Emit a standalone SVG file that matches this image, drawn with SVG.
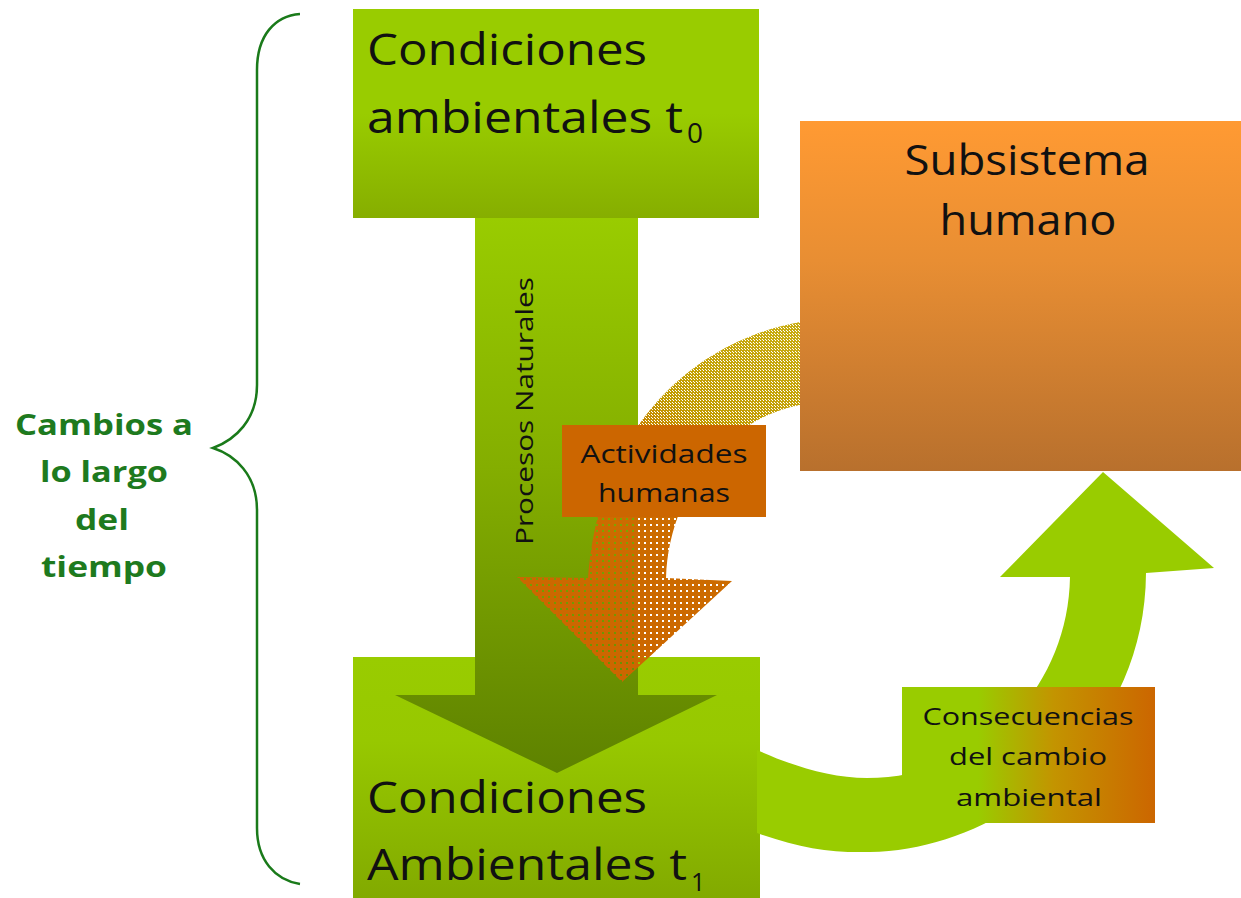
<svg xmlns="http://www.w3.org/2000/svg" width="1241" height="898" viewBox="0 0 1241 898">
<style>
  .t { font-family: "Open Sans", "Liberation Sans", sans-serif; fill: #111; }
  .big { font-size: 44px; }
  .mid { font-size: 25px; }
  .lbl { font-family: "Open Sans", "Liberation Sans", sans-serif; font-weight: bold; font-size: 28px; fill: #1E7A1E; }
</style>
<defs>
  <linearGradient id="gTop" x1="0" y1="0" x2="0" y2="1">
    <stop offset="0" stop-color="#99CC00"/>
    <stop offset="0.5" stop-color="#99CC00"/>
    <stop offset="1" stop-color="#86AE00"/>
  </linearGradient>
  <linearGradient id="gBot" x1="0" y1="0" x2="0" y2="1">
    <stop offset="0" stop-color="#99CC00"/>
    <stop offset="0.35" stop-color="#97C800"/>
    <stop offset="1" stop-color="#82AA00"/>
  </linearGradient>
  <linearGradient id="gArrow" gradientUnits="userSpaceOnUse" x1="0" y1="218" x2="0" y2="772">
    <stop offset="0" stop-color="#99CC00"/>
    <stop offset="0.45" stop-color="#84AE00"/>
    <stop offset="1" stop-color="#5E8200"/>
  </linearGradient>
  <linearGradient id="gHum" x1="0" y1="0" x2="0" y2="1">
    <stop offset="0" stop-color="#FF9A33"/>
    <stop offset="0.4" stop-color="#E88E33"/>
    <stop offset="1" stop-color="#B8702D"/>
  </linearGradient>
  <linearGradient id="gCons" x1="0" y1="0" x2="1" y2="0">
    <stop offset="0" stop-color="#99CC00"/>
    <stop offset="0.3" stop-color="#99CC00"/>
    <stop offset="0.6" stop-color="#C39400"/>
    <stop offset="1" stop-color="#CC6600"/>
  </linearGradient>
  <linearGradient id="gDot" gradientUnits="userSpaceOnUse" x1="790" y1="330" x2="620" y2="680">
    <stop offset="0" stop-color="#C8AC10"/>
    <stop offset="0.3" stop-color="#C29C00"/>
    <stop offset="0.48" stop-color="#CC6E00"/>
    <stop offset="1" stop-color="#CC6600"/>
  </linearGradient>
  <pattern id="pSmall" patternUnits="userSpaceOnUse" width="6" height="6">
    <rect width="6" height="6" fill="#fff"/>
    <rect x="2" y="2" width="2" height="2" fill="#000"/>
  </pattern>
  <pattern id="pDense" patternUnits="userSpaceOnUse" width="3" height="3">
    <rect width="3" height="3" fill="#fff"/>
    <rect x="0" y="0" width="1" height="1" fill="#000"/>
    <rect x="1" y="1" width="1" height="1" fill="#000"/>
  </pattern>
  <mask id="dotMask" maskUnits="userSpaceOnUse" x="0" y="0" width="1241" height="898">
    <rect x="0" y="0" width="1241" height="898" fill="url(#pSmall)"/>
    <rect x="0" y="0" width="1241" height="470" fill="url(#pDense)"/>
  </mask>
</defs>

<g id="brace">
  <path d="M 300 14 C 275 16, 257 35, 257 70 L 257 385 C 257 420, 235 440, 213 448 C 235 455, 257 475, 257 510 L 257 828 C 257 860, 275 880, 300 884" fill="none" stroke="#1A7A1A" stroke-width="2.5"/>
</g>

<g id="label-cambios">
  <text class="lbl" x="104" y="435" text-anchor="middle" textLength="178" lengthAdjust="spacingAndGlyphs">Cambios a</text>
  <text class="lbl" x="104" y="482" text-anchor="middle" textLength="128" lengthAdjust="spacingAndGlyphs">lo largo</text>
  <text class="lbl" x="102" y="530" text-anchor="middle" textLength="54" lengthAdjust="spacingAndGlyphs">del</text>
  <text class="lbl" x="104" y="577" text-anchor="middle" textLength="126" lengthAdjust="spacingAndGlyphs">tiempo</text>
</g>

<g id="node-t0">
  <rect x="353" y="9" width="406" height="209" fill="url(#gTop)"/>
  <text class="t big" x="367" y="65" textLength="280" lengthAdjust="spacingAndGlyphs">Condiciones</text>
  <text class="t big" x="367" y="133" textLength="316" lengthAdjust="spacingAndGlyphs">ambientales t</text>
  <text class="t" x="687" y="143" font-size="28">0</text>
</g>

<g id="node-t1">
  <rect x="353" y="657" width="407" height="241" fill="url(#gBot)"/>
</g>

<g id="connectors">
  <path id="arrow-natural" d="M 475 218 L 638 218 L 638 695 L 717 695 L 557 773 L 395 695 L 475 695 Z" fill="url(#gArrow)"/>
  <path id="arrow-human" d="M 800 322 C 700 340, 600 420, 588 578 L 517 577 L 622 682 L 732 581 L 666 578 C 668 500, 720 420, 800 405 Z" fill="url(#gDot)" mask="url(#dotMask)"/>
  <path id="arrow-consequences" d="M 757 750 C 790 765, 830 778, 867 778 C 980 778, 1068 690, 1070 577 L 1000 577 L 1103 472 L 1214 568 L 1146 573 C 1145 740, 1000 850, 870 852 C 830 853, 800 848, 757 833 Z" fill="#99CC00"/>
  <text class="t" transform="translate(533 545) rotate(-90)" font-size="24" textLength="268" lengthAdjust="spacingAndGlyphs">Procesos Naturales</text>
</g>

<g id="node-t1-text">
  <text class="t big" x="367" y="813" textLength="280" lengthAdjust="spacingAndGlyphs">Condiciones</text>
  <text class="t big" x="367" y="880" textLength="320" lengthAdjust="spacingAndGlyphs">Ambientales t</text>
  <text class="t" x="691" y="891" font-size="25">1</text>
</g>

<g id="node-humano">
  <rect x="800" y="121" width="441" height="350" fill="url(#gHum)"/>
  <text class="t" x="1027" y="175" font-size="42" text-anchor="middle" textLength="245" lengthAdjust="spacingAndGlyphs">Subsistema</text>
  <text class="t" x="1028" y="235" font-size="42" text-anchor="middle" textLength="177" lengthAdjust="spacingAndGlyphs">humano</text>
</g>

<g id="node-actividades">
  <rect x="562" y="425" width="204" height="92" fill="#CC6600"/>
  <text class="t mid" x="664" y="463" text-anchor="middle" textLength="167" lengthAdjust="spacingAndGlyphs">Actividades</text>
  <text class="t mid" x="664" y="502" text-anchor="middle" textLength="132" lengthAdjust="spacingAndGlyphs">humanas</text>
</g>

<g id="node-consecuencias">
  <rect x="902" y="687" width="253" height="136" fill="url(#gCons)"/>
  <text class="t" x="1028" y="725" font-size="23" text-anchor="middle" textLength="211" lengthAdjust="spacingAndGlyphs">Consecuencias</text>
  <text class="t" x="1028" y="765" font-size="23" text-anchor="middle" textLength="158" lengthAdjust="spacingAndGlyphs">del cambio</text>
  <text class="t" x="1029" y="806" font-size="23" text-anchor="middle" textLength="146" lengthAdjust="spacingAndGlyphs">ambiental</text>
</g>
</svg>
